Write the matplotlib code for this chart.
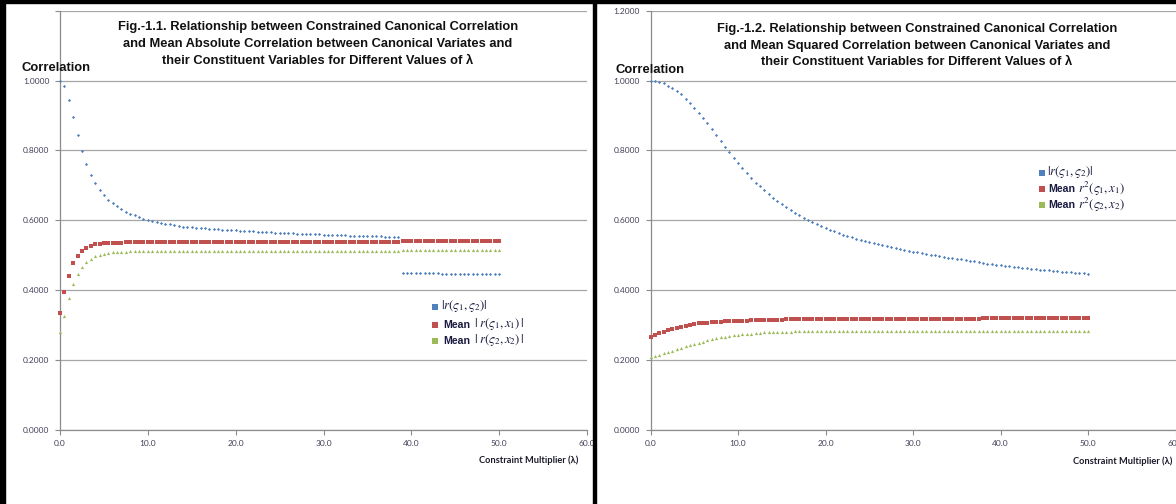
import matplotlib
matplotlib.use("Agg")
import matplotlib.pyplot as plt
from matplotlib.lines import Line2D
from matplotlib.patches import Rectangle
from matplotlib.ticker import FixedLocator, FixedFormatter

# ---------------- data ----------------
lam = [0.0, 0.5, 1.0, 1.5, 2.0, 2.5, 3.0, 3.5, 4.0, 4.5, 5.0, 5.5, 6.0, 6.5, 7.0, 7.5, 8.0, 8.5, 9.0, 9.5,
       10.0, 10.5, 11.0, 11.5, 12.0, 12.5, 13.0, 13.5, 14.0, 14.5, 15.0, 15.5, 16.0, 16.5, 17.0, 17.5, 18.0, 18.5, 19.0, 19.5,
       20.0, 20.5, 21.0, 21.5, 22.0, 22.5, 23.0, 23.5, 24.0, 24.5, 25.0, 25.5, 26.0, 26.5, 27.0, 27.5, 28.0, 28.5, 29.0, 29.5,
       30.0, 30.5, 31.0, 31.5, 32.0, 32.5, 33.0, 33.5, 34.0, 34.5, 35.0, 35.5, 36.0, 36.5, 37.0, 37.5, 38.0, 38.5, 39.0, 39.5,
       40.0, 40.5, 41.0, 41.5, 42.0, 42.5, 43.0, 43.5, 44.0, 44.5, 45.0, 45.5, 46.0, 46.5, 47.0, 47.5, 48.0, 48.5, 49.0, 49.5,
       50.0]

# Fig 1.1 : |r(s1,s2)| -- upper branch (lambda 0 .. 38.5) and lower branch (lambda 39 .. 50)
left_blue_upper = [1.000, 0.984, 0.944, 0.895, 0.843, 0.798, 0.761, 0.730, 0.706, 0.687,
                   0.671, 0.659, 0.649, 0.640, 0.632, 0.624, 0.619, 0.614, 0.609, 0.605,
                   0.601, 0.598, 0.595, 0.592, 0.590, 0.588, 0.586, 0.584, 0.582,
                   0.581, 0.580, 0.579, 0.578, 0.577, 0.576, 0.575, 0.574, 0.573, 0.572,
                   0.5715, 0.571, 0.570, 0.5695, 0.569, 0.568, 0.5675, 0.567, 0.566, 0.5655,
                   0.565, 0.5645, 0.564, 0.563, 0.5625, 0.562, 0.5615, 0.561, 0.5605, 0.560,
                   0.5595, 0.559, 0.5585, 0.558, 0.5575, 0.557, 0.5567, 0.5563, 0.556, 0.5557,
                   0.5553, 0.555, 0.5546, 0.5542, 0.5538, 0.5534, 0.553, 0.5526, 0.5522]
left_blue_lower = [0.4490, 0.4489, 0.4487, 0.4486, 0.4484, 0.4483, 0.4481, 0.4480, 0.4478, 0.4477,
                   0.4475, 0.4474, 0.4472, 0.4471, 0.4469, 0.4468, 0.4466, 0.4465, 0.4463, 0.4462,
                   0.4460, 0.4459, 0.4457]
left_red = [0.335, 0.395, 0.442, 0.478, 0.499, 0.513, 0.521, 0.527, 0.531,
            0.533, 0.534, 0.535, 0.5355, 0.536, 0.5363, 0.5366, 0.537,
            0.5371, 0.5372, 0.5372, 0.5373, 0.5373, 0.5373, 0.5374, 0.5374, 0.5374, 0.5374,
            0.5375, 0.5375, 0.5375, 0.5375, 0.5375, 0.5376, 0.5376, 0.5376, 0.5376, 0.5376,
            0.5376, 0.5377, 0.5377, 0.5377, 0.5377, 0.5377, 0.5377, 0.5377, 0.5378, 0.5378,
            0.5378, 0.5378, 0.5378, 0.5378, 0.5378, 0.5378, 0.5379, 0.5379, 0.5379, 0.5379,
            0.5379, 0.5379, 0.5379, 0.5379, 0.5379, 0.5380, 0.5380, 0.5380, 0.5380, 0.5380,
            0.5380, 0.5380, 0.5380, 0.5380, 0.5380, 0.5380, 0.5380, 0.5381, 0.5381, 0.5381,
            0.5381,
            0.5394, 0.5394, 0.5395, 0.5395, 0.5395, 0.5396, 0.5396, 0.5396, 0.5396, 0.5397,
            0.5397, 0.5397, 0.5397, 0.5397, 0.5398, 0.5398, 0.5398, 0.5398, 0.5398, 0.5398,
            0.5399, 0.5399, 0.5399]
left_green = [0.279, 0.325, 0.378, 0.418, 0.446, 0.466, 0.481, 0.490, 0.497,
              0.501, 0.505, 0.507, 0.508, 0.509, 0.510, 0.5105, 0.511,
              0.5112, 0.5114, 0.5115, 0.5116, 0.5117, 0.5118, 0.5119, 0.5120, 0.5120, 0.5121,
              0.5121, 0.5122, 0.5122, 0.5123, 0.5123, 0.5124, 0.5124, 0.5124, 0.5125, 0.5125,
              0.5125, 0.5126, 0.5126, 0.5126, 0.5127, 0.5127, 0.5127, 0.5127, 0.5128, 0.5128,
              0.5128, 0.5128, 0.5129, 0.5129, 0.5129, 0.5129, 0.5129, 0.5130, 0.5130, 0.5130,
              0.5130, 0.5130, 0.5131, 0.5131, 0.5131, 0.5131, 0.5131, 0.5131, 0.5132, 0.5132,
              0.5132, 0.5132, 0.5132, 0.5132, 0.5132, 0.5133, 0.5133, 0.5133, 0.5133, 0.5133,
              0.5133,
              0.5148, 0.5148, 0.5149, 0.5149, 0.5149, 0.5150, 0.5150, 0.5150, 0.5150, 0.5151,
              0.5151, 0.5151, 0.5151, 0.5151, 0.5152, 0.5152, 0.5152, 0.5152, 0.5152, 0.5152,
              0.5153, 0.5153, 0.5153]

# Fig 1.2
right_blue = [1.000, 0.998, 0.996, 0.992, 0.985, 0.979, 0.970, 0.960, 0.948, 0.936,
              0.922, 0.908, 0.892, 0.877, 0.861, 0.844, 0.827, 0.810, 0.794, 0.778,
              0.763, 0.749, 0.734, 0.721, 0.708, 0.697, 0.686, 0.675, 0.665, 0.655,
              0.646, 0.638, 0.629, 0.622, 0.615, 0.608, 0.601, 0.595, 0.589, 0.583,
              0.578, 0.573, 0.568, 0.563, 0.559, 0.555, 0.551, 0.547, 0.544,
              0.5410, 0.5380, 0.5350, 0.5320, 0.5290, 0.5260, 0.5232, 0.5205, 0.5180, 0.5155,
              0.5130, 0.5106, 0.5083, 0.5060, 0.5038, 0.5016, 0.4995, 0.4975, 0.4955, 0.4935,
              0.4916, 0.4897, 0.4879, 0.4861, 0.4844, 0.4827, 0.4810, 0.4774, 0.4758, 0.4742,
              0.4727, 0.4712, 0.4697, 0.4683, 0.4669, 0.4655, 0.4642, 0.4629, 0.4616, 0.4603,
              0.4591, 0.4579, 0.4567, 0.4555, 0.4544, 0.4533, 0.4522, 0.4511, 0.4500, 0.4490,
              0.4480, 0.4470]
right_red = [0.267, 0.272, 0.277, 0.280, 0.285, 0.289, 0.292, 0.295, 0.298, 0.300,
             0.303, 0.305, 0.306, 0.307, 0.308, 0.309, 0.310, 0.3105, 0.311, 0.312,
             0.3123, 0.3127, 0.3131, 0.3135, 0.3140, 0.3145, 0.3150, 0.3152, 0.3155, 0.3158,
             0.3160, 0.3163, 0.3166, 0.3168, 0.3170, 0.3172, 0.3174, 0.3176, 0.3178, 0.3180,
             0.3181, 0.3182, 0.3182, 0.3183, 0.3183, 0.3184, 0.3184, 0.3185, 0.3185, 0.3185,
             0.3186, 0.3186, 0.3186, 0.3187, 0.3187, 0.3187, 0.3187, 0.3188, 0.3188, 0.3188,
             0.3188, 0.3188, 0.3189, 0.3189, 0.3189, 0.3189, 0.3189, 0.3189, 0.3190, 0.3190,
             0.3190, 0.3190, 0.3190, 0.3190, 0.3190, 0.3190, 0.3191, 0.3191, 0.3191, 0.3191,
             0.3191, 0.3191, 0.3191, 0.3191, 0.3191, 0.3192, 0.3192, 0.3192, 0.3192, 0.3192,
             0.3192, 0.3192, 0.3192, 0.3192, 0.3192, 0.3192, 0.3193, 0.3193, 0.3193, 0.3193,
             0.3193]
right_green = [0.2095, 0.212, 0.216, 0.220, 0.224, 0.227, 0.231, 0.235, 0.239, 0.243,
               0.246, 0.250, 0.253, 0.257, 0.260, 0.263, 0.265, 0.267, 0.269, 0.271,
               0.273, 0.274, 0.275, 0.276, 0.277, 0.278, 0.279, 0.2795, 0.2800, 0.2805,
               0.2810, 0.2813, 0.2816, 0.2820, 0.2822, 0.2824, 0.2826, 0.2828, 0.2830, 0.2831,
               0.2832, 0.2833, 0.2834, 0.2835, 0.2835, 0.2836, 0.2836, 0.2837, 0.2837, 0.2838,
               0.2838, 0.2838, 0.2839, 0.2839, 0.2839, 0.2840, 0.2840, 0.2840, 0.2840, 0.2841,
               0.2841, 0.2841, 0.2841, 0.2841, 0.2842, 0.2842, 0.2842, 0.2842, 0.2842, 0.2843,
               0.2843, 0.2843, 0.2843, 0.2843, 0.2843, 0.2843, 0.2844, 0.2844, 0.2844, 0.2844,
               0.2844, 0.2844, 0.2844, 0.2844, 0.2845, 0.2845, 0.2845, 0.2845, 0.2845, 0.2845,
               0.2845, 0.2845, 0.2845, 0.2845, 0.2846, 0.2846, 0.2846, 0.2846, 0.2846, 0.2846,
               0.2846]

x_ticks = [0, 10, 20, 30, 40, 50, 60]
x_tick_labels = ["0.0", "10.0", "20.0", "30.0", "40.0", "50.0", "60.0"]
y_ticks = [0.0, 0.2, 0.4, 0.6, 0.8, 1.0, 1.2]
y_tick_labels_left = ["0.0000", "0.2000", "0.4000", "0.6000", "0.8000", "1.0000", ""]
y_tick_labels_right = ["0.0000", "0.2000", "0.4000", "0.6000", "0.8000", "1.0000", "1.2000"]

title_left = ["Fig.-1.1. Relationship between Constrained Canonical Correlation",
              "and Mean Absolute Correlation between Canonical Variates and",
              "their Constituent Variables for Different Values of λ"]
title_right = ["Fig.-1.2. Relationship between Constrained Canonical Correlation",
               "and Mean Squared Correlation between Canonical Variates and",
               "their Constituent Variables for Different Values of λ"]
# legend entries: (prefix word, math part)
legend_left = [("", r"$|r(\varsigma_1,\varsigma_2)|$"),
               ("Mean", r"$|\;r(\varsigma_1,x_1)\,|$"),
               ("Mean", r"$|\;r(\varsigma_2,x_2)\,|$")]
legend_right = [("", r"$|r(\varsigma_1,\varsigma_2)|$"),
                ("Mean", r"$r^2(\varsigma_1,x_1)$"),
                ("Mean", r"$r^2(\varsigma_2,x_2)$")]

# ---------------- style ----------------
BLUE, RED, GREEN = "#4F81BD", "#C0504D", "#9BBB59"
GRID = "#a6a6a6"
TICKC = "#404058"
plt.rcParams["mathtext.fontset"] = "stix"

W, H = 1176, 504
fig = plt.figure(figsize=(W / 100, H / 100), dpi=100)
fig.patch.set_facecolor("white")


def fx(px):
    return px / W


def fy(py):
    return 1 - py / H


axL = fig.add_axes([fx(60), 74 / H, 527 / W, 419.4 / H])
axR = fig.add_axes([fx(650.5), 74 / H, 525 / W, 419.4 / H])


def style(ax, ylabels):
    ax.set_xlim(0, 60)
    ax.set_ylim(0, 1.2)
    ax.xaxis.set_major_locator(FixedLocator(x_ticks))
    ax.xaxis.set_major_formatter(FixedFormatter(x_tick_labels))
    ax.yaxis.set_major_locator(FixedLocator(y_ticks))
    ax.yaxis.set_major_formatter(FixedFormatter(ylabels))
    for s in ["top", "right"]:
        ax.spines[s].set_visible(False)
    for s in ["left", "bottom"]:
        ax.spines[s].set_color("#8c8c8c")
        ax.spines[s].set_linewidth(0.9)
    ax.grid(axis="y", color=GRID, lw=0.9)
    ax.set_axisbelow(True)
    ax.tick_params(axis="both", direction="out", length=3.5, width=0.8, color="#8c8c8c",
                   labelsize=6, labelcolor=TICKC, pad=4)
    for lab in ax.get_xticklabels() + ax.get_yticklabels():
        lab.set_fontfamily("Lato")
    ax.set_facecolor("white")


style(axL, y_tick_labels_left)
style(axR, y_tick_labels_right)

mk = dict(ls="none", mew=0, clip_on=False, zorder=3)
n_up = len(left_blue_upper)
axL.plot(lam[:n_up], left_blue_upper, marker="D", ms=1.6, color=BLUE, **mk)
axL.plot(lam[n_up:], left_blue_lower, marker="D", ms=1.6, color=BLUE, **mk)
axL.plot(lam, left_red, marker="s", ms=2.2, color=RED, **mk)
axL.plot(lam, left_green, marker="^", ms=2.3, color=GREEN, **mk)

axR.plot(lam, right_blue, marker="D", ms=1.6, color=BLUE, **mk)
axR.plot(lam, right_red, marker="s", ms=2.2, color=RED, **mk)
axR.plot(lam, right_green, marker="^", ms=2.3, color=GREEN, **mk)

# titles
TFS = 9.3
for i, line in enumerate(title_left):
    fig.text(fx(318), fy(27 + 17 * i), line, ha="center", va="center",
             fontsize=TFS, fontweight="bold", family="Liberation Sans", color="#111111")
for i, line in enumerate(title_right):
    fig.text(fx(917), fy(29 + 16.5 * i), line, ha="center", va="center",
             fontsize=TFS, fontweight="bold", family="Liberation Sans", color="#111111")

fig.text(fx(22), fy(68), "Correlation", ha="left", va="center", fontsize=9.4,
         fontweight="bold", family="Liberation Sans", color="#111111")
fig.text(fx(615), fy(70), "Correlation", ha="left", va="center", fontsize=9.4,
         fontweight="bold", family="Liberation Sans", color="#111111")

fig.text(fx(578), fy(460), "Constraint Multiplier (λ)", ha="right", va="center",
         fontsize=6.7, fontweight="bold", family="Lato", color="#1a1a2a")
fig.text(fx(1172), fy(461), "Constraint Multiplier (λ)", ha="right", va="center",
         fontsize=6.7, fontweight="bold", family="Lato", color="#1a1a2a")


# legends (square key + bold "Mean" + larger serif math)
def draw_legend(entries, x_key, x_word, x_math_first, x_math, rows):
    for (word, math), c, y in zip(entries, [BLUE, RED, GREEN], rows):
        fig.add_artist(Line2D([fx(x_key)], [fy(y)], transform=fig.transFigure, ls="none",
                              marker="s", ms=3.8, mew=0, color=c))
        if word:
            fig.text(fx(x_word), fy(y), word, ha="left", va="center", fontsize=7.6,
                     fontweight="bold", family="Liberation Sans", color="#1a1a40")
            fig.text(fx(x_math), fy(y - 0.5), math, ha="left", va="center", fontsize=9.2,
                     color="#1a1a40")
        else:
            fig.text(fx(x_math_first), fy(y - 0.5), math, ha="left", va="center",
                     fontsize=9.2, color="#1a1a40")


draw_legend(legend_left, 435, 443, 441, 474, [307, 325, 341])
draw_legend(legend_right, 1042, 1048, 1047, 1078, [173, 189, 205])

# black frame lines of the screenshot
fig.patches.append(Rectangle((0, 0), fx(5), 1, transform=fig.transFigure, color="black", zorder=10))
fig.patches.append(Rectangle((0, fy(3)), 1, 3 / H, transform=fig.transFigure, color="black", zorder=10))
fig.patches.append(Rectangle((fx(593), 0), 3 / W, 1, transform=fig.transFigure, color="black", zorder=10))

fig.savefig("out.png", dpi=100, facecolor="white")
